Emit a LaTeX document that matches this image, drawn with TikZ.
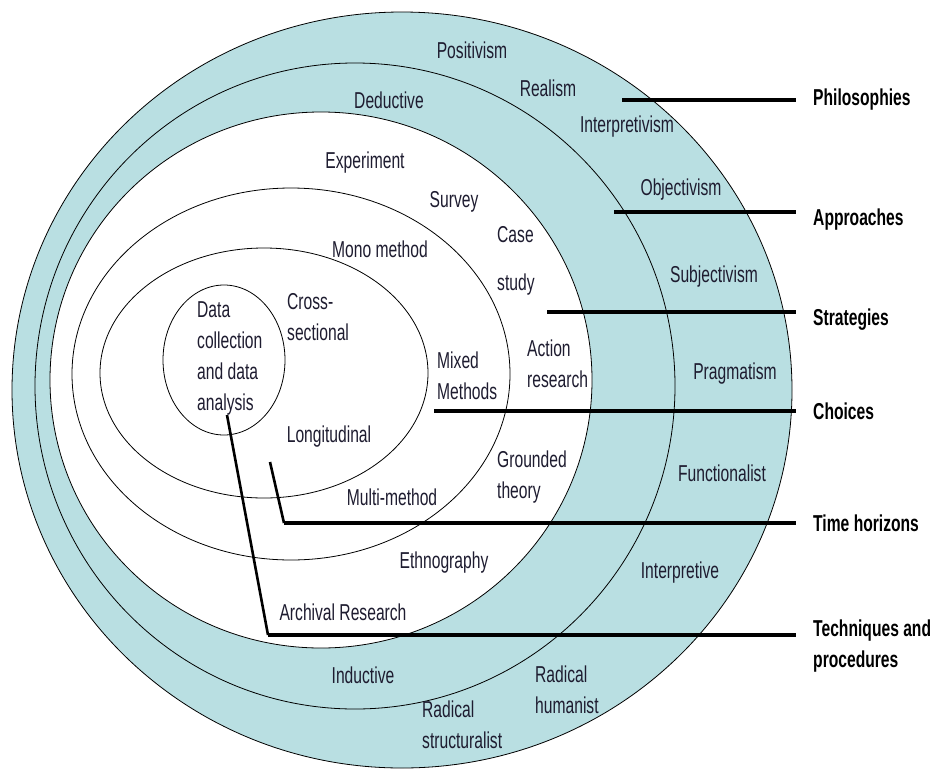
\documentclass[tikz,border=0pt]{standalone}
\usepackage{fontspec}
\setmainfont{Liberation Sans}[FakeStretch=0.68]
\definecolor{ringblue}{RGB}{185,223,226}
\definecolor{txt}{RGB}{30,28,48}
\begin{document}
\begin{tikzpicture}[x=1pt,y=-1pt,
  ringline/.style={draw=black, line width=0.8pt},
  lbl/.style={font=\fontsize{23}{31}\selectfont, text=txt, inner sep=0pt},
  lblL/.style={lbl, anchor=west, align=left},
  cat/.style={font=\bfseries\fontsize{23}{31}\selectfont, text=black, anchor=west, inner sep=0pt, align=left},
  leader/.style={line width=3.8pt, shorten >=17pt},
  slant/.style={line width=2.6pt}]
\useasboundingbox (0,0) rectangle (937,769);
% rings
\filldraw[fill=ringblue, ringline] (402,390) ellipse [x radius=390pt, y radius=378pt];
\draw[ringline] (355,386) ellipse [x radius=320pt, y radius=323pt];
\filldraw[fill=white, ringline] (321,380) ellipse [x radius=271pt, y radius=268pt];
\draw[ringline] (291,374) ellipse [x radius=219pt, y radius=186pt];
\draw[ringline] (264,373) ellipse [x radius=164pt, y radius=125pt];
\draw[ringline] (224,360) ellipse [x radius=61pt, y radius=75pt];
% philosophies
\node[lbl] (positivism) at (472,50) {Positivism};
\node[lbl] (realism) at (548,88) {Realism};
\node[lbl] (interpretivism) at (627,127) {Interpretivism};
\node[lbl] (objectivism) at (681,190) {Objectivism};
\node[lbl] (subjectivism) at (714,277) {Subjectivism};
\node[lbl] (pragmatism) at (735,374) {Pragmatism};
\node[lbl] (functionalist) at (722,473) {Functionalist};
\node[lbl] (interpretive) at (680,573) {Interpretive};
\node[lblL] (humanist) at (535,690) {Radical\\humanist};
\node[lblL] (structuralist) at (422,725) {Radical\\structuralist};
% approaches
\node[lbl] (deductive) at (389,100) {Deductive};
\node[lbl] (inductive) at (363,675) {Inductive};
% strategies
\node[lbl] (experiment) at (365,163) {Experiment};
\node[lbl] (survey) at (454,202) {Survey};
\node[lblL] (casestudy) at (497,261) {Case\\[17pt]study};
\node[lblL] (action) at (527,364) {Action\\research};
\node[lblL] (grounded) at (497,477) {Grounded\\theory};
\node[lbl] (ethno) at (444,563) {Ethnography};
\node[lbl] (archival) at (343,612) {Archival Research};
% choices
\node[lbl] (mono) at (380,249) {Mono method};
\node[lblL] (mixed) at (437,376) {Mixed\\Methods};
\node[lbl] (multi) at (392,497) {Multi-method};
% time horizons
\node[lblL] (cross) at (287,317) {Cross-\\sectional};
\node[lbl] (longi) at (329,437) {Longitudinal};
% core
\node[lblL] (data) at (197,358) {Data\\collection\\and data\\analysis};
% category labels
\node[cat] (phil) at (813,100) {Philosophies};
\node[cat] (appr) at (813,220) {Approaches};
\node[cat] (strat) at (813,320) {Strategies};
\node[cat] (choice) at (813,411) {Choices};
\node[cat] (time) at (813,523) {Time horizons};
\node[cat] (tech) at (813,646) {Techniques and\\procedures};
% leader lines
\coordinate (p1) at (622,100);
\coordinate (p2) at (614,212);
\coordinate (p3) at (547,312);
\coordinate (p4) at (434,411);
\coordinate (p5a) at (270,462);
\coordinate (p5b) at (284,523);
\coordinate (p6a) at (227,415);
\coordinate (p6b) at (268,635);
\draw[leader] (p1) -- (p1 -| phil.west);
\draw[leader] (p2) -- (p2 -| appr.west);
\draw[leader] (p3) -- (p3 -| strat.west);
\draw[leader] (p4) -- (p4 -| choice.west);
\draw[slant] (p5a) -- (p5b);
\draw[leader] (p5b) -- (p5b -| time.west);
\draw[slant] (p6a) -- (p6b);
\draw[leader] (p6b) -- (p6b -| tech.west);
\end{tikzpicture}
\end{document}
